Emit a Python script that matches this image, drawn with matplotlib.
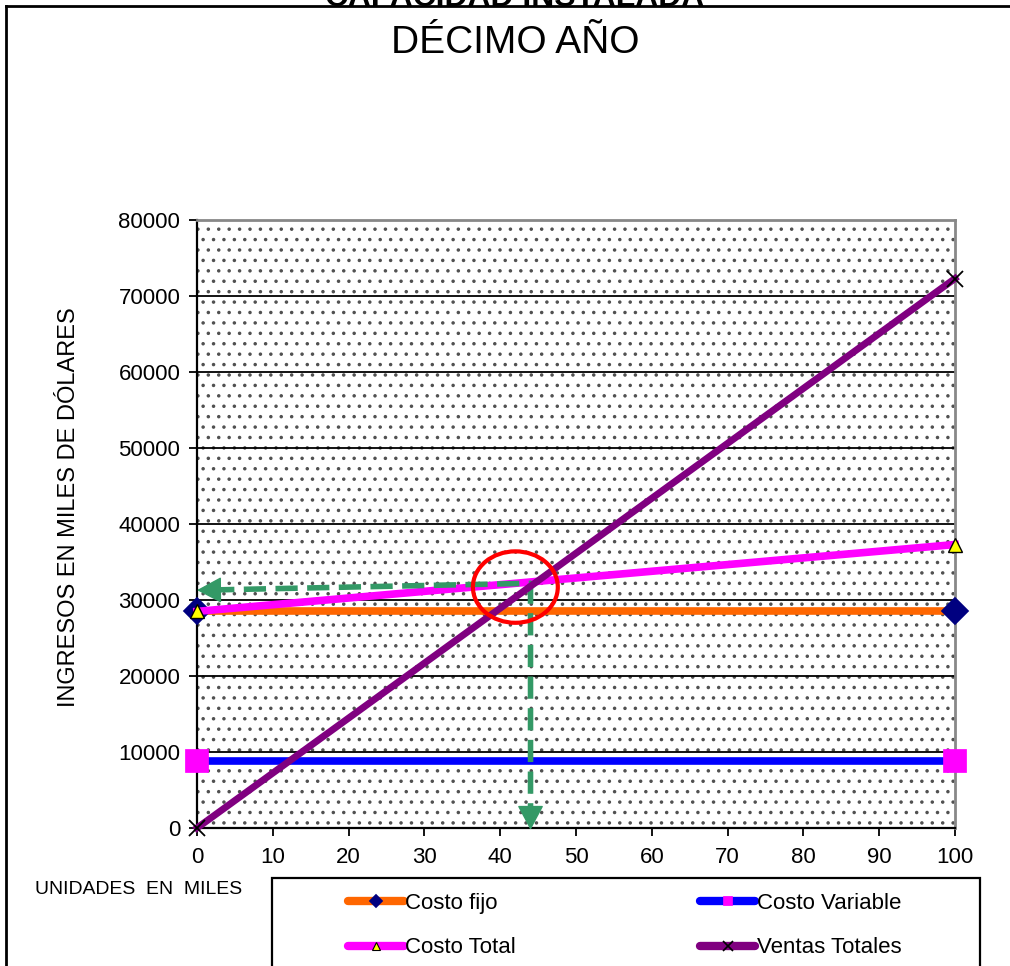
import matplotlib
matplotlib.use("Agg")
import matplotlib.pyplot as plt
from matplotlib.patches import Rectangle, Ellipse
from matplotlib.lines import Line2D

plt.rcParams['font.family'] = ['Liberation Sans', 'DejaVu Sans']
plt.rcParams['hatch.color'] = '#505050'

# data (miles de dolares vs unidades en miles)
unidades = [0, 100]
costo_fijo = [28500, 28500]
costo_variable = [8800, 8800]
costo_total = [28500, 37300]
ventas_totales = [0, 72300]

# punto de equilibrio marcado a mano
eq_x = 44
eq_y_right = 32200
eq_y_left = 31300

x_ticks = list(range(0, 101, 10))
y_ticks = list(range(0, 80001, 10000))

W, H = 1010, 966
DPI = 125          # chosen so the '..' hatch gives ~10px dot spacing
K = 100 / DPI      # sizes below were measured for 100 dpi

plt.rcParams['hatch.linewidth'] = 1.0 * K


def fx(px):
    return px / W


def fy(py):
    return 1 - py / H


def s(v):
    return v * K


fig = plt.figure(figsize=(W / DPI, H / DPI), dpi=DPI)
ax = fig.add_axes([fx(197), fy(828), fx(955) - fx(197), fy(220) - fy(828)])

# dotted background
ax.add_patch(Rectangle((0, 0), 1, 1, transform=ax.transAxes, facecolor='white',
                       edgecolor='#505050', hatch='..', lw=0, zorder=0))

ax.set_xlim(0, 100)
ax.set_ylim(0, 80000)
ax.set_xticks(x_ticks)
ax.set_yticks(y_ticks)
ax.tick_params(labelsize=s(16), length=s(6), width=s(1.3), direction='out')
ax.tick_params(axis='x', pad=s(8))
ax.tick_params(axis='y', pad=s(6))
ax.yaxis.grid(True, color='black', lw=s(1.3), zorder=1)
for sp in ['left', 'bottom']:
    ax.spines[sp].set_color('black')
    ax.spines[sp].set_linewidth(s(1.6))
for sp in ['top', 'right']:
    ax.spines[sp].set_color('#888888')
    ax.spines[sp].set_linewidth(s(2))

ax.plot(unidades, costo_variable, color='#0000FF', lw=s(5.5), marker='s', ms=s(16),
        mfc='#FF00FF', mec='#FF00FF', clip_on=False, zorder=3)
ax.plot(unidades, costo_fijo, color='#FF6600', lw=s(5.5), marker='D', ms=s(13),
        mfc='#000080', mec='#000080', clip_on=False, zorder=3)
ax.plot(unidades, costo_total, color='#FF00FF', lw=s(5.5), marker='^', ms=s(10),
        mfc='#FFFF00', mec='black', mew=s(1), clip_on=False, zorder=4)

# dashed guide lines to the break-even point
green = '#339966'
ax.plot([2, eq_x, eq_x], [eq_y_left + 20, eq_y_right, 2000], color=green,
        lw=s(4), dashes=(4, 1.7), zorder=5, clip_on=False)
head = dict(arrowstyle='-|>,head_length=0.75,head_width=0.4', color=green,
            lw=s(1), shrinkA=0, shrinkB=0, mutation_scale=s(21))
ax.annotate('', xy=(0, eq_y_left), xytext=(3, eq_y_left + 20),
            arrowprops=head, zorder=5, annotation_clip=False)
ax.annotate('', xy=(eq_x, -250), xytext=(eq_x, 3000),
            arrowprops=head, zorder=5, annotation_clip=False)

ax.plot(unidades, ventas_totales, color='#800080', lw=s(5), marker='x', ms=s(11),
        mec='black', mew=s(1.3), clip_on=False, zorder=6)

ax.add_patch(Ellipse((42, 31700), 11.2, 9400, fill=False, edgecolor='#FF0000',
                     lw=s(3), zorder=7))

ax.set_ylabel('INGRESOS EN MILES DE DÓLARES', fontsize=s(17))
ax.yaxis.set_label_coords(-(197 - 80) / (955 - 197), (828 - 507) / (828 - 220))

fig.text(fx(515), fy(6), 'CAPACIDAD INSTALADA', fontsize=s(23), fontweight='bold',
         ha='center', va='baseline')
fig.text(fx(515), fy(53), 'DÉCIMO AÑO', fontsize=s(28), ha='center', va='baseline')
fig.text(fx(35), fy(894), 'UNIDADES  EN  MILES', fontsize=s(14), ha='left', va='baseline')

# outer frame (left and top only visible)
fig.add_artist(Line2D([fx(6), fx(6)], [0, fy(6)], color='black', lw=s(2)))
fig.add_artist(Line2D([fx(6), 1], [fy(6), fy(6)], color='black', lw=s(2)))

# legend box
fig.add_artist(Rectangle((fx(272), -0.01), fx(980) - fx(272), fy(878) + 0.01,
                         fill=False, edgecolor='black', lw=s(1.6)))
handles = [
    Line2D([], [], color='#FF6600', lw=s(6), solid_capstyle='round', marker='D',
           ms=s(6), mfc='#000080', mec='#000080'),
    Line2D([], [], color='#FF00FF', lw=s(6), solid_capstyle='round', marker='^',
           ms=s(6), mfc='#FFFF00', mec='black', mew=s(0.8)),
    Line2D([], [], color='#0000FF', lw=s(6), solid_capstyle='round', marker='s',
           ms=s(6), mfc='#FF00FF', mec='#FF00FF'),
    Line2D([], [], color='#800080', lw=s(6), solid_capstyle='round', marker='x',
           ms=s(7), mec='black', mew=s(1.2)),
]
labels = ['Costo fijo', 'Costo Total', 'Costo Variable', 'Ventas Totales']
fig.legend(handles, labels, ncol=2, loc='upper left',
           bbox_to_anchor=(fx(348), fy(893)), frameon=False, fontsize=s(16),
           handlelength=2.5, handletextpad=0.05, columnspacing=8.3,
           labelspacing=1.05, borderpad=0, borderaxespad=0)

fig.savefig('out.png', dpi=DPI)
